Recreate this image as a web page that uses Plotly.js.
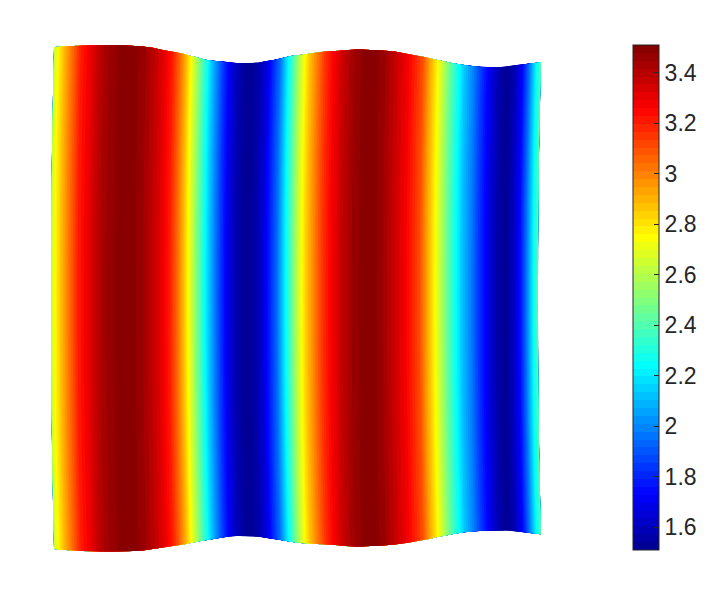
<!DOCTYPE html>
<html>
<head>
<meta charset="utf-8">
<script src="https://cdn.plot.ly/plotly-3.0.1.min.js"></script>
<style>html,body{margin:0;padding:0;background:#fff;}#chart{width:726px;height:615px;}</style>
</head>
<body>
<div id="chart"></div>
<script>
// Column positions (middle row), surface value per column, and top / bottom edge of each column
const colX = [51,55,62,70,78,88,98,110,125,140,150,160,170,177,183,188,193,198,203,208,214,220,227,235,245,255,263,270,277,283,289,295,300,306,314,322,332,342,355,368,380,392,405,420,426,432,437,443,449,455,462,470,478,487,497,505,513,520,526,531,535,538];
const values = [2.62,2.75,2.9,3.05,3.2,3.3,3.4,3.47,3.5,3.47,3.4,3.32,3.2,3.05,2.9,2.75,2.6,2.45,2.3,2.15,2.0,1.85,1.7,1.58,1.52,1.55,1.65,1.8,1.95,2.15,2.35,2.55,2.7,2.85,3.0,3.15,3.28,3.38,3.47,3.5,3.47,3.38,3.28,3.1,2.95,2.82,2.7,2.55,2.4,2.27,2.12,2.0,1.85,1.7,1.56,1.52,1.6,1.75,1.95,2.15,2.3,2.42];
const topY = [47,46.7,46.3,45.9,45.5,45.3,45.1,45.1,45.6,46.4,47.8,50.0,51.8,53,54.6,55.9,57.1,58.4,59.7,60.4,61,61.6,62.2,63.1,62.9,62.4,61.1,60,58.4,56.9,55.8,55.2,54.6,53.7,52.6,51.6,50.9,50.2,49.3,49.9,50.4,51.6,54,56.7,58,59.4,60.5,61.8,63,63.9,64.9,66.1,66.8,67.1,66.9,65.9,65.1,64.3,63.6,63,62.5,62.3];
const botY = [549,549.4,549.9,550.5,551,551.3,551.5,551.6,551.3,550.6,549.1,547.6,546,545,543.9,543,542,541.1,540.2,539.4,538.5,537.6,536.5,536.1,536.4,536.8,538,539,540.1,541.1,541.9,542.7,543.2,543.5,544,544.4,545.1,545.9,546.7,546,545.4,544.6,542.7,540,538.9,537.6,536.6,535.4,534.2,533.2,532.3,531.5,530.9,530.7,530.7,530.8,531.5,532.3,533,533.6,534.1,534.3];
// Rows from top edge (0) to bottom edge (1) and the sideways bow of the columns
const rowV = [0,0.1,0.2,0.3,0.4,0.5,0.6,0.7,0.8,0.9,1];
const rowShift = [3,1.9,1,0.4,0.1,0,0.1,0.4,1,1.9,3];
// Colour bar
const cMin = 1.51, cMax = 3.51, nLevels = 64;
const tickVals = [1.6,1.8,2.0,2.2,2.4,2.6,2.8,3.0,3.2,3.4];
const tickText = ['1.6','1.8','2','2.2','2.4','2.6','2.8','3','3.2','3.4'];

const gx = [], gy = [], gz = [];
for (let r = 0; r < rowV.length; r++) {
  const rx = [], ry = [], rz = [];
  for (let c = 0; c < colX.length; c++) {
    rx.push(colX[c] + rowShift[r]);
    ry.push(topY[c] + rowV[r] * (botY[c] - topY[c]));
    rz.push(values[c]);
  }
  gx.push(rx); gy.push(ry); gz.push(rz);
}

const jet = [[0,'rgb(0,0,143)'],[0.111,'rgb(0,0,255)'],[0.365,'rgb(0,255,255)'],[0.619,'rgb(255,255,0)'],[0.873,'rgb(255,0,0)'],[1,'rgb(128,0,0)']];
const hiddenAxis = {showgrid:false, showline:false, showticklabels:'none', startline:false, endline:false, minorgridcount:0, smoothing:0, gridwidth:0, color:'rgba(0,0,0,0)'};
const labelFont = {family:'Liberation Sans, Arial, sans-serif', size:23, color:'#262626'};

const data = [
  {type:'carpet', carpet:'c1', a:colX, b:rowV, x:gx, y:gy, aaxis:hiddenAxis, baxis:hiddenAxis, hoverinfo:'skip'},
  {type:'contourcarpet', carpet:'c1', a:colX, b:rowV, z:gz,
   autocontour:false, zauto:false, zmin:cMin, zmax:cMax,
   contours:{start:cMin, end:cMax, size:(cMax-cMin)/nLevels, coloring:'fill', showlines:false},
   line:{width:0}, colorscale:jet,
   colorbar:{x:633/726, xanchor:'left', y:(615-297.5)/615, yanchor:'middle', thickness:26, len:505, lenmode:'pixels',
     outlinewidth:1, outlinecolor:'#262626', xpad:0, ypad:0,
     tickmode:'array', tickvals:tickVals, ticktext:tickText, ticks:'inside', ticklen:5, tickcolor:'#262626',
     tickfont:labelFont}}
];
const layout = {
  width:726, height:615, margin:{l:0,r:0,t:0,b:0}, paper_bgcolor:'#fff', plot_bgcolor:'#fff',
  font:labelFont,
  xaxis:{range:[0,726], visible:false, fixedrange:true},
  yaxis:{range:[615,0], visible:false, fixedrange:true},
  showlegend:false
};
Plotly.newPlot('chart', data, layout, {staticPlot:true, displayModeBar:false});
</script>
</body>
</html>
